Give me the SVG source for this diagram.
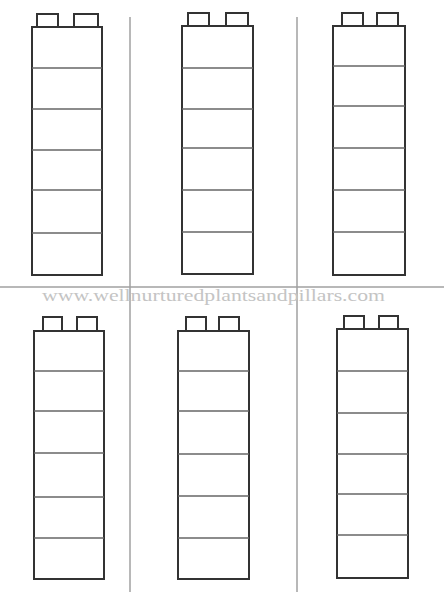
<svg xmlns="http://www.w3.org/2000/svg" width="444" height="592" viewBox="0 0 444 592">
<style>
.out{fill:none;stroke:#333;stroke-width:2}
.stud{fill:#fff;stroke:#333;stroke-width:2}
.cell{stroke:#666;stroke-width:1.4}
.div{stroke:#a0a0a0;stroke-width:1.5}
.wm{font-family:"Liberation Serif","DejaVu Serif",serif;font-size:16px;fill:#c4c4c4}
</style>
<rect width="444" height="592" fill="#fff"/>
<g id="dividers">
<line class="div" x1="0" y1="287" x2="444" y2="287"/>
<line class="div" x1="130" y1="17" x2="130" y2="287"/>
<line class="div" x1="297" y1="17" x2="297" y2="287"/>
<line class="div" x1="130" y1="287" x2="130" y2="592"/>
<line class="div" x1="297" y1="287" x2="297" y2="592"/>
</g>
<text class="wm" x="42" y="301" textLength="343" lengthAdjust="spacingAndGlyphs">www.wellnurturedplantsandpillars.com</text>
<g id="tower1">
<rect class="stud" x="37" y="14" width="21" height="13"/>
<rect class="stud" x="74" y="14" width="24" height="13"/>
<rect class="out" x="32" y="27" width="70" height="248"/>
<line class="cell" x1="32" y1="68" x2="102" y2="68"/>
<line class="cell" x1="32" y1="109" x2="102" y2="109"/>
<line class="cell" x1="32" y1="150" x2="102" y2="150"/>
<line class="cell" x1="32" y1="190" x2="102" y2="190"/>
<line class="cell" x1="32" y1="233" x2="102" y2="233"/>
</g>
<g id="tower2">
<rect class="stud" x="188" y="13" width="21" height="13"/>
<rect class="stud" x="226" y="13" width="22" height="13"/>
<rect class="out" x="182" y="26" width="71" height="248"/>
<line class="cell" x1="182" y1="68" x2="253" y2="68"/>
<line class="cell" x1="182" y1="109" x2="253" y2="109"/>
<line class="cell" x1="182" y1="148" x2="253" y2="148"/>
<line class="cell" x1="182" y1="190" x2="253" y2="190"/>
<line class="cell" x1="182" y1="232" x2="253" y2="232"/>
</g>
<g id="tower3">
<rect class="stud" x="342" y="13" width="21" height="13"/>
<rect class="stud" x="377" y="13" width="21" height="13"/>
<rect class="out" x="333" y="26" width="72" height="249"/>
<line class="cell" x1="333" y1="66" x2="405" y2="66"/>
<line class="cell" x1="333" y1="106" x2="405" y2="106"/>
<line class="cell" x1="333" y1="148" x2="405" y2="148"/>
<line class="cell" x1="333" y1="190" x2="405" y2="190"/>
<line class="cell" x1="333" y1="232" x2="405" y2="232"/>
</g>
<g id="tower4">
<rect class="stud" x="43" y="317" width="19" height="14"/>
<rect class="stud" x="77" y="317" width="20" height="14"/>
<rect class="out" x="34" y="331" width="70" height="248"/>
<line class="cell" x1="34" y1="371" x2="104" y2="371"/>
<line class="cell" x1="34" y1="411" x2="104" y2="411"/>
<line class="cell" x1="34" y1="453" x2="104" y2="453"/>
<line class="cell" x1="34" y1="497" x2="104" y2="497"/>
<line class="cell" x1="34" y1="538" x2="104" y2="538"/>
</g>
<g id="tower5">
<rect class="stud" x="186" y="317" width="20" height="14"/>
<rect class="stud" x="219" y="317" width="20" height="14"/>
<rect class="out" x="178" y="331" width="71" height="248"/>
<line class="cell" x1="178" y1="371" x2="249" y2="371"/>
<line class="cell" x1="178" y1="411" x2="249" y2="411"/>
<line class="cell" x1="178" y1="454" x2="249" y2="454"/>
<line class="cell" x1="178" y1="496" x2="249" y2="496"/>
<line class="cell" x1="178" y1="538" x2="249" y2="538"/>
</g>
<g id="tower6">
<rect class="stud" x="344" y="316" width="20" height="13"/>
<rect class="stud" x="379" y="316" width="19" height="13"/>
<rect class="out" x="337" y="329" width="71" height="249"/>
<line class="cell" x1="337" y1="371" x2="408" y2="371"/>
<line class="cell" x1="337" y1="413" x2="408" y2="413"/>
<line class="cell" x1="337" y1="454" x2="408" y2="454"/>
<line class="cell" x1="337" y1="494" x2="408" y2="494"/>
<line class="cell" x1="337" y1="535" x2="408" y2="535"/>
</g>
</svg>
